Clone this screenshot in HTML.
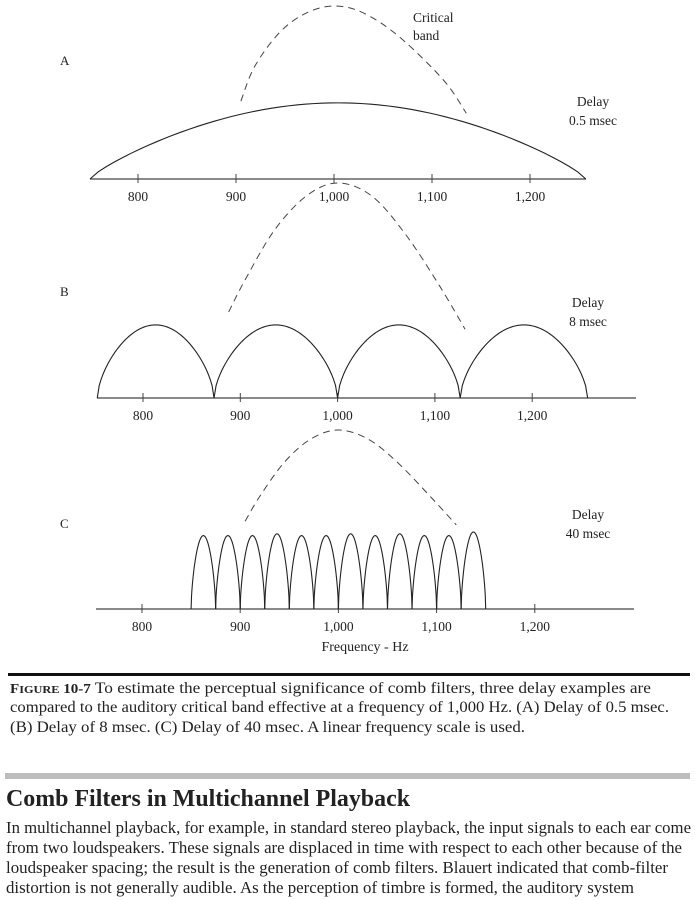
<!DOCTYPE html>
<html><head><meta charset="utf-8"><style>
html,body{margin:0;padding:0;background:#fff;}
svg{display:block;}
.t{font-family:"Liberation Serif",serif;fill:#222;}
</style></head><body>
<svg id="fig" width="695" height="900" viewBox="0 0 695 900">
<g id="chart"></g>
<g>
<rect x="8" y="673" width="682" height="3" fill="#111"/>
<text class="t" x="10" y="693" font-size="15.5" textLength="641" lengthAdjust="spacingAndGlyphs"><tspan font-weight="bold" font-size="13.5">F</tspan><tspan font-weight="bold" font-size="11">IGURE</tspan><tspan font-weight="bold" font-size="13.5"> 10-7</tspan>   To estimate the perceptual significance of comb filters, three delay examples are</text>
<text class="t" x="10" y="712" font-size="15.5" textLength="659" lengthAdjust="spacingAndGlyphs">compared to the auditory critical band effective at a frequency of 1,000 Hz. (A) Delay of 0.5 msec.</text>
<text class="t" x="10" y="732" font-size="15.5" textLength="515" lengthAdjust="spacingAndGlyphs">(B) Delay of 8 msec. (C) Delay of 40 msec. A linear frequency scale is used.</text>
</g>
<rect x="5" y="773" width="685" height="6" fill="#bdbdbd"/>
<text class="t" x="6" y="806" font-size="24" font-weight="bold" fill="#111" textLength="404" lengthAdjust="spacingAndGlyphs">Comb Filters in Multichannel Playback</text>
<g>
<text class="t" x="6" y="833" font-size="17" textLength="685" lengthAdjust="spacingAndGlyphs">In multichannel playback, for example, in standard stereo playback, the input signals to each ear come</text>
<text class="t" x="6" y="853" font-size="17" textLength="676" lengthAdjust="spacingAndGlyphs">from two loudspeakers. These signals are displaced in time with respect to each other because of the</text>
<text class="t" x="6" y="873" font-size="17" textLength="662" lengthAdjust="spacingAndGlyphs">loudspeaker spacing; the result is the generation of comb filters. Blauert indicated that comb-filter</text>
<text class="t" x="6" y="893" font-size="17" textLength="628" lengthAdjust="spacingAndGlyphs">distortion is not generally audible. As the perception of timbre is formed, the auditory system</text>
</g>
</svg>
<script>
// ---- data ----
const tickValues = [800, 900, 1000, 1100, 1200];
const tickLabels = ["800", "900", "1,000", "1,100", "1,200"];
const panelNames = ["A", "B", "C"];
const delayLabels = ["0.5 msec", "8 msec", "40 msec"];
// comb nulls (Hz) per panel: arches span consecutive nulls
const nullsA = [751, 1257];
const nullsB = [753, 873, 1000, 1126, 1257];
const nullsC = [850, 875, 900, 925, 950, 975, 1000, 1025, 1050, 1075, 1100, 1125, 1150];
// arch peak amplitudes (relative to panel max)
const peaksA = [0.44];
const peaksB = [0.34, 0.34, 0.34, 0.34];
const peaksC = [0.41, 0.41, 0.41, 0.42, 0.41, 0.41, 0.42, 0.41, 0.42, 0.41, 0.41, 0.43];
// critical band (dashed) frequency / amplitude
const bandFreqA = [905, 919, 945, 972, 1000, 1030, 1067, 1112, 1135];
const bandAmpA  = [0.45, 0.65, 0.85, 0.96, 1.0, 0.96, 0.82, 0.57, 0.38];
const bandFreqB = [888, 905, 935, 968, 1000, 1035, 1070, 1105, 1131];
const bandAmpB  = [0.40, 0.55, 0.78, 0.94, 1.0, 0.94, 0.76, 0.52, 0.32];
const bandFreqC = [905, 920, 945, 972, 1000, 1030, 1060, 1095, 1120];
const bandAmpC  = [0.49, 0.63, 0.82, 0.95, 1.0, 0.95, 0.82, 0.62, 0.47];

// ---- layout (not data) ----
const panels = [
  {axisY:179, x800:138, pxPer100:98,  x0:90, x1:586, yMax:173, shape:0.8, nulls:nullsA, peaks:peaksA, bf:bandFreqA, ba:bandAmpA, lab:[60,65], dl:[593,106]},
  {axisY:398, x800:143, pxPer100:97.3,x0:97, x1:636, yMax:215, shape:0.6, nulls:nullsB, peaks:peaksB, bf:bandFreqB, ba:bandAmpB, lab:[60,296], dl:[588,307]},
  {axisY:609, x800:142, pxPer100:98.2,x0:96, x1:634, yMax:179, shape:0.6, nulls:nullsC, peaks:peaksC, bf:bandFreqC, ba:bandAmpC, lab:[60,528], dl:[588,519]}
];
const NS = "http://www.w3.org/2000/svg";
const chart = document.getElementById("chart");
function mk(tag, attrs, parent){const e=document.createElementNS(NS,tag);for(const k in attrs)e.setAttribute(k,attrs[k]);(parent||chart).appendChild(e);return e;}
function smooth(pts){
  let d = "M" + pts[0][0].toFixed(2) + "," + pts[0][1].toFixed(2);
  for (let i = 0; i < pts.length - 1; i++) {
    const p0 = pts[Math.max(i-1,0)], p1 = pts[i], p2 = pts[i+1], p3 = pts[Math.min(i+2,pts.length-1)];
    const c1 = [p1[0]+(p2[0]-p0[0])/6, p1[1]+(p2[1]-p0[1])/6];
    const c2 = [p2[0]-(p3[0]-p1[0])/6, p2[1]-(p3[1]-p1[1])/6];
    d += "C" + c1[0].toFixed(2)+","+c1[1].toFixed(2)+" "+c2[0].toFixed(2)+","+c2[1].toFixed(2)+" "+p2[0].toFixed(2)+","+p2[1].toFixed(2);
  }
  return d;
}

panels.forEach((p, i) => {
  const xS = f => p.x800 + (f - 800) * p.pxPer100 / 100;
  const yS = a => p.axisY - a * p.yMax;
  const g = mk("g", {});
  
  
  const ax = mk("line", {x1:p.x0, x2:p.x1, y1:p.axisY, y2:p.axisY, stroke:"#444", "stroke-width":1.2}, g);
  
  
  tickValues.forEach((v, k) => {
    const x = xS(v);
    const tk = mk("line", {x1:x, x2:x, y1:p.axisY-5, y2:p.axisY+4, stroke:"#444", "stroke-width":1}, g);
    
    
    const tl = mk("text", {x:x, y:p.axisY+22, "text-anchor":"middle", "font-size":13.5, class:"t"}, g);
    tl.textContent = tickLabels[k];
    
    
  });
  for (let j = 0; j < p.nulls.length - 1; j++) {
    const fa = p.nulls[j], fb = p.nulls[j+1], pk = p.peaks[j];
    let d = "";
    for (let s = 0; s <= 60; s++) {
      const t = s / 60, f = fa + (fb - fa) * t;
      const a = pk * Math.pow(Math.sin(Math.PI * t), p.shape);
      d += (s ? "L" : "M") + xS(f).toFixed(2) + "," + yS(a).toFixed(2);
    }
    const arc = mk("path", {d:d, fill:"none", stroke:"#222", "stroke-width":1.1}, g);
    
    
  }
  const pts = p.bf.map((f, k) => [xS(f), yS(p.ba[k])]);
  const band = mk("path", {d:smooth(pts), fill:"none", stroke:"#444", "stroke-width":1, "stroke-dasharray":"7,5"}, g);
  
  
  const pl = mk("text", {x:p.lab[0], y:p.lab[1], "font-size":13, class:"t"}, g);
  pl.textContent = panelNames[i];
  
  
  const d1 = mk("text", {x:p.dl[0], y:p.dl[1], "text-anchor":"middle", "font-size":13.5, class:"t"}, g);
  d1.textContent = "Delay";
  
  
  const d2 = mk("text", {x:p.dl[0], y:p.dl[1]+19, "text-anchor":"middle", "font-size":13.5, class:"t"}, g);
  d2.textContent = delayLabels[i];
  
  
});
const cb1 = mk("text", {x:413, y:22, "font-size":13.5, class:"t"});
cb1.textContent = "Critical";


const cb2 = mk("text", {x:413, y:40, "font-size":13.5, class:"t"});
cb2.textContent = "band";


const xt = mk("text", {x:365, y:651, "text-anchor":"middle", "font-size":14, class:"t"});
xt.textContent = "Frequency - Hz";


</script>
</body></html>
